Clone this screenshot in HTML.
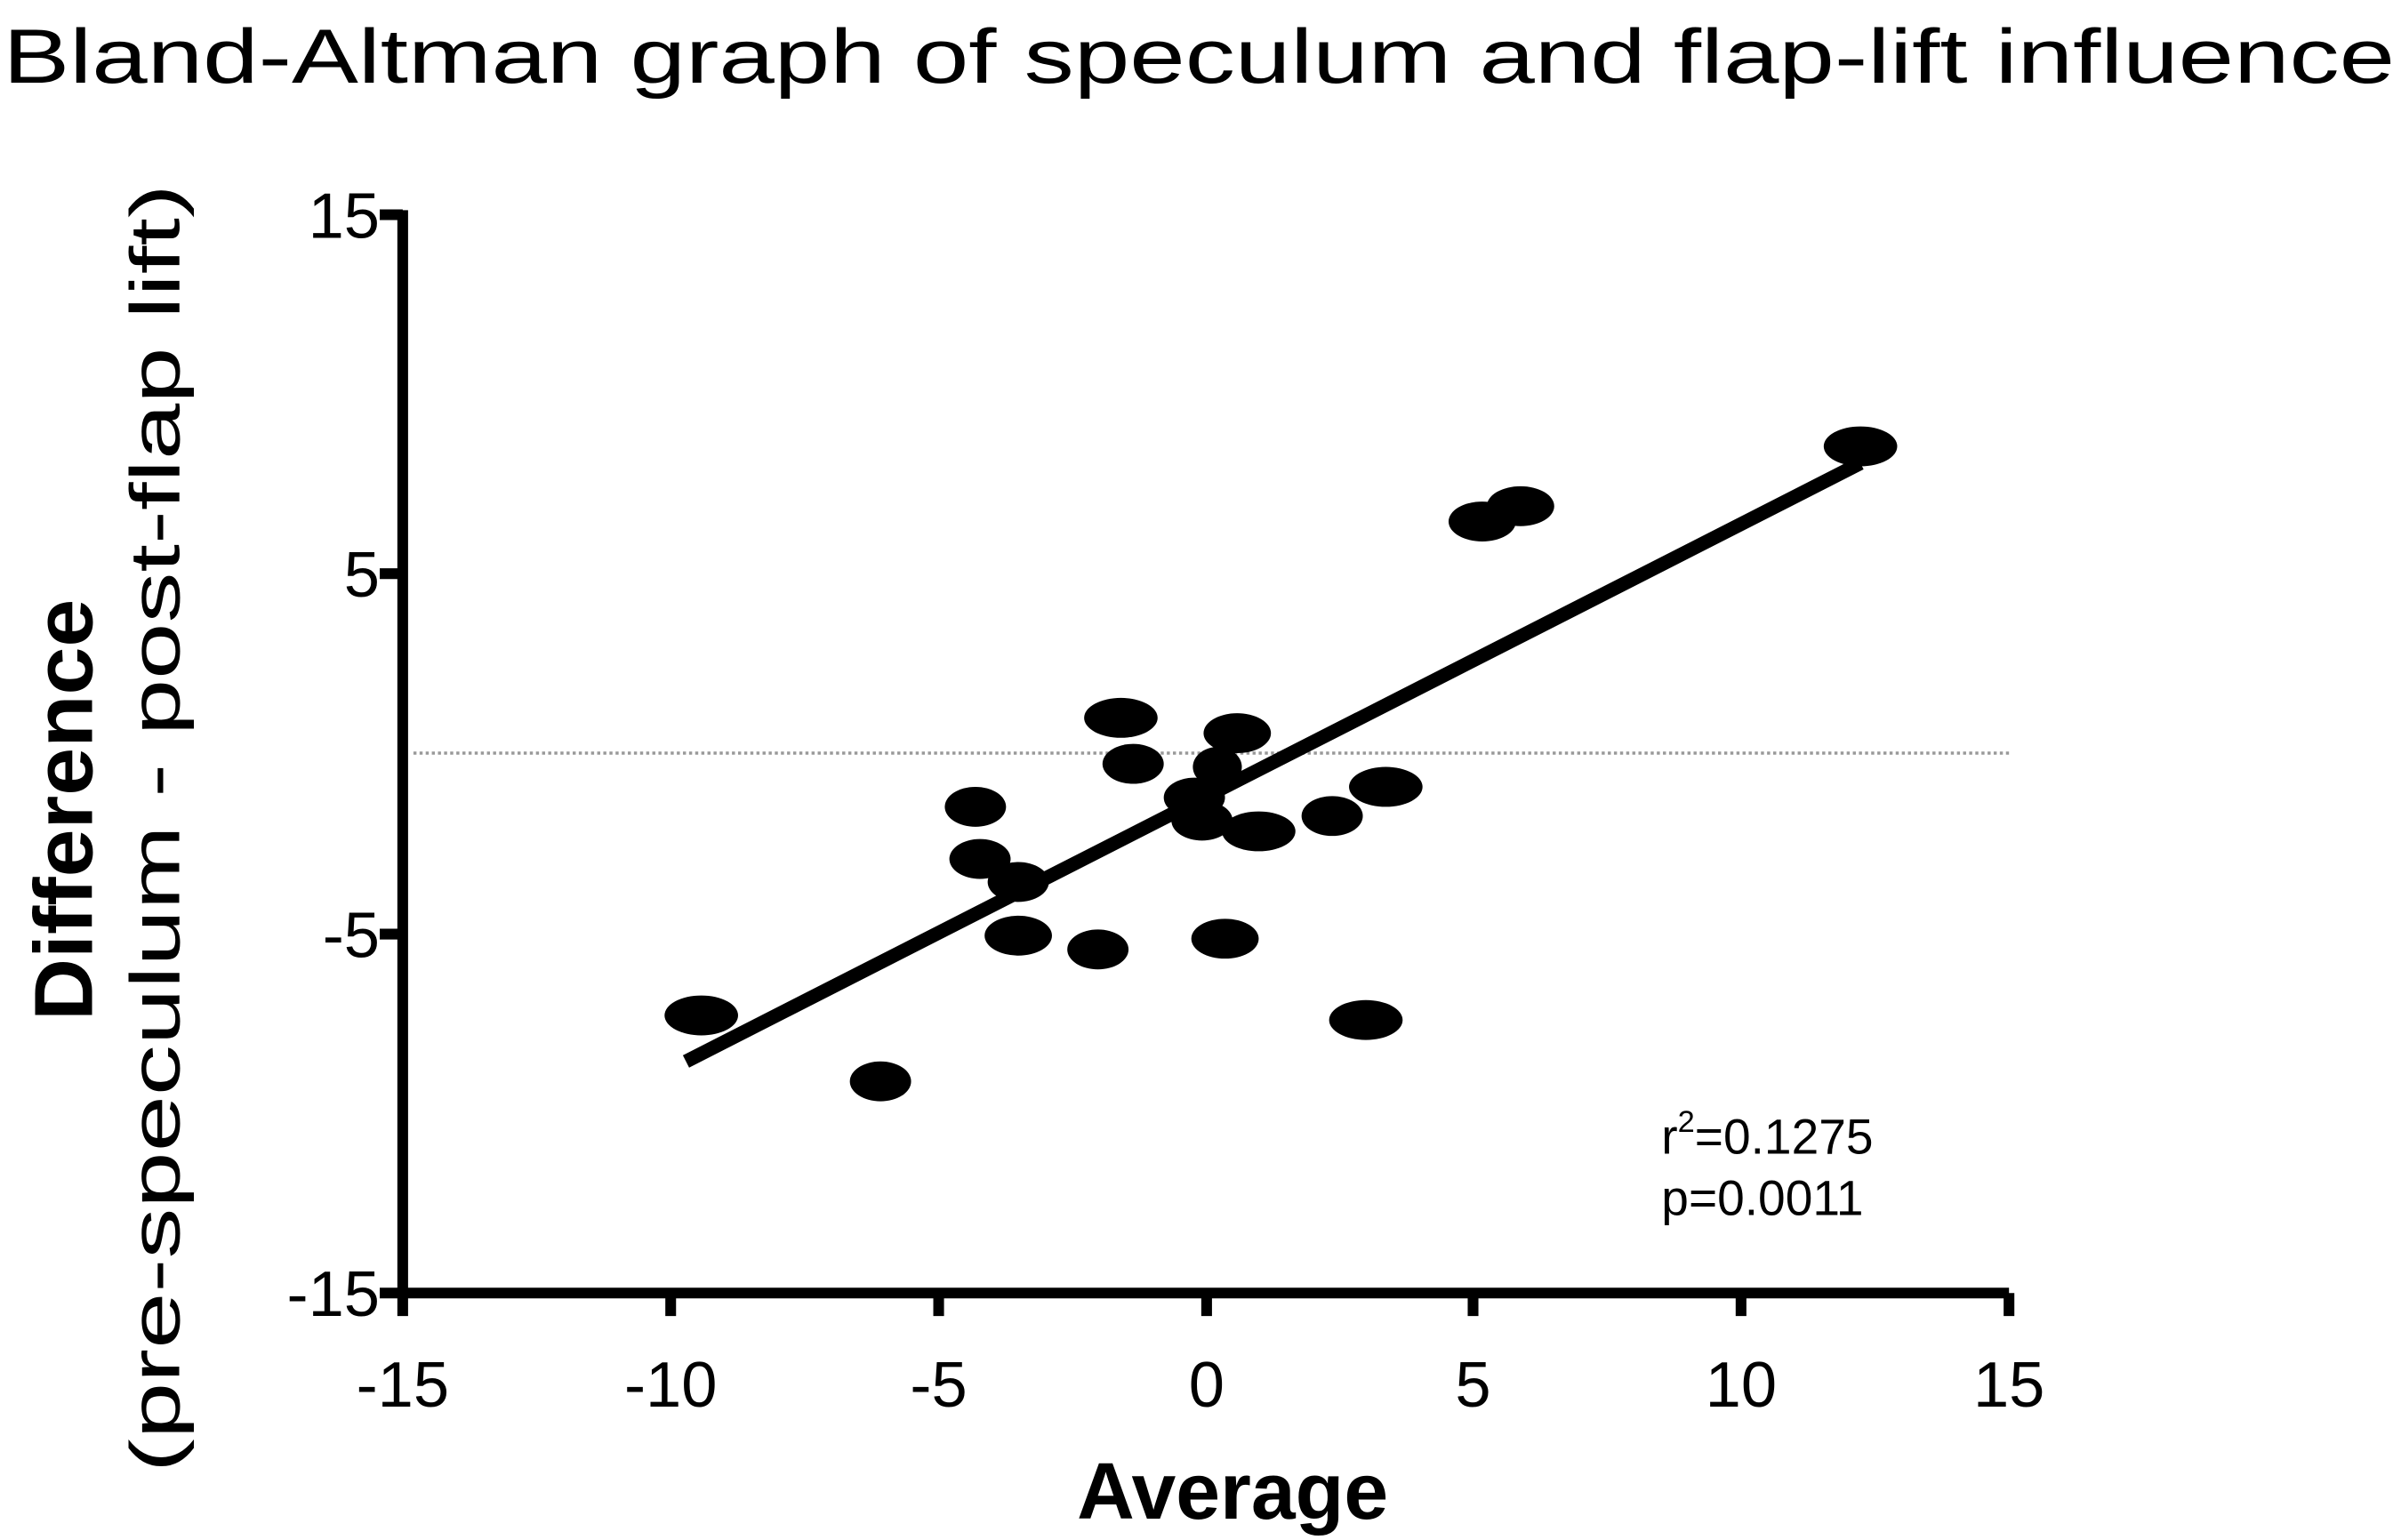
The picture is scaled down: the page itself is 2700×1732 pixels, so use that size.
<!DOCTYPE html>
<html><head><meta charset="utf-8"><style>html,body{margin:0;padding:0;background:#fff}svg{display:block}</style></head>
<body>
<svg width="2700" height="1732" viewBox="0 0 1568 1004" preserveAspectRatio="none" xmlns="http://www.w3.org/2000/svg" font-family="Liberation Sans, sans-serif">
<rect width="1568" height="1004" fill="#fff"/>
<text x="2" y="54" font-size="50" textLength="1562" lengthAdjust="spacingAndGlyphs">Bland-Altman graph of speculum and flap-lift influence</text>
<line x1="270" y1="491" x2="1312" y2="491" stroke="#999" stroke-width="2" stroke-dasharray="2,2"/>
<g stroke="#000" stroke-width="7" fill="none">
<line x1="263" y1="137" x2="263" y2="846"/>
<line x1="260" y1="843" x2="1312" y2="843"/>
<line x1="248" y1="140" x2="263" y2="140"/>
<line x1="248" y1="374" x2="263" y2="374"/>
<line x1="248" y1="609" x2="263" y2="609"/>
<line x1="248" y1="843" x2="263" y2="843"/>
<line x1="263" y1="843" x2="263" y2="858"/>
<line x1="438" y1="843" x2="438" y2="858"/>
<line x1="613" y1="843" x2="613" y2="858"/>
<line x1="788" y1="843" x2="788" y2="858"/>
<line x1="962" y1="843" x2="962" y2="858"/>
<line x1="1137" y1="843" x2="1137" y2="858"/>
<line x1="1312" y1="843" x2="1312" y2="858"/>
</g>
<g font-size="42" text-anchor="end">
<text x="248" y="155">15</text><text x="248" y="389">5</text><text x="248" y="624">-5</text><text x="248" y="858">-15</text>
</g>
<g font-size="42" text-anchor="middle">
<text x="263" y="917">-15</text><text x="438" y="917">-10</text><text x="613" y="917">-5</text><text x="788" y="917">0</text><text x="962" y="917">5</text><text x="1137" y="917">10</text><text x="1312" y="917">15</text>
</g>
<text x="805" y="990" font-size="52" font-weight="bold" text-anchor="middle">Average</text>
<text transform="translate(60,528) rotate(-90)" font-size="54" font-weight="bold" text-anchor="middle" textLength="275" lengthAdjust="spacingAndGlyphs">Difference</text>
<text transform="translate(117,540) rotate(-90)" font-size="46" text-anchor="middle" textLength="840" lengthAdjust="spacingAndGlyphs">(pre-speculum - post-flap lift)</text>
<line x1="448" y1="692" x2="1215" y2="302" stroke="#000" stroke-width="9"/>
<g fill="#000">
<ellipse cx="458" cy="662" rx="24" ry="13"/><ellipse cx="575" cy="705" rx="20" ry="13"/>
<ellipse cx="637" cy="526" rx="20" ry="13"/><ellipse cx="640" cy="560" rx="20" ry="13"/>
<ellipse cx="665" cy="575" rx="20" ry="13"/><ellipse cx="665" cy="610" rx="22" ry="13"/>
<ellipse cx="717" cy="619" rx="20" ry="13"/><ellipse cx="732" cy="468" rx="24" ry="13"/>
<ellipse cx="740" cy="498" rx="20" ry="13"/><ellipse cx="780" cy="520" rx="20" ry="13"/>
<ellipse cx="785" cy="535" rx="20" ry="13"/><ellipse cx="795" cy="500" rx="16" ry="13"/>
<ellipse cx="808" cy="478" rx="22" ry="13"/><ellipse cx="800" cy="612" rx="22" ry="13"/>
<ellipse cx="822" cy="542" rx="24" ry="13"/><ellipse cx="870" cy="532" rx="20" ry="13"/>
<ellipse cx="905" cy="513" rx="24" ry="13"/><ellipse cx="892" cy="665" rx="24" ry="13"/>
<ellipse cx="968" cy="340" rx="22" ry="13"/><ellipse cx="993" cy="330" rx="22" ry="13"/>
<ellipse cx="1215" cy="291" rx="24" ry="13"/>
</g>
<text x="1085" y="752" font-size="32">r<tspan font-size="20" dy="-14">2</tspan><tspan dy="14">=0.1275</tspan></text>
<text x="1085" y="792" font-size="32">p=0.0011</text>
</svg>
</body></html>
